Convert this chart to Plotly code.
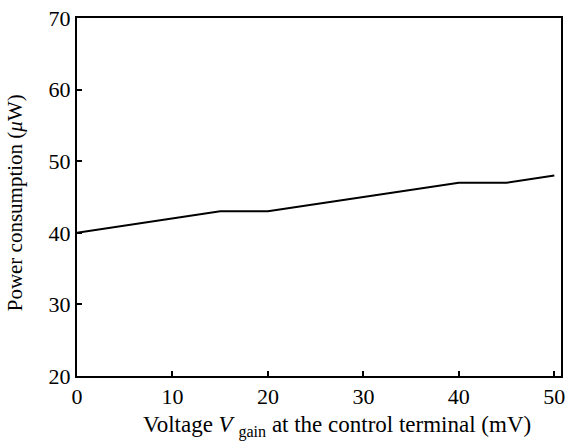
import plotly.graph_objects as go

voltage = [0, 5, 10, 15, 20, 25, 30, 35, 40, 45, 50]
power = [40, 41, 42, 43, 43, 44, 45, 46, 47, 47, 48]
x_ticks = [0, 10, 20, 30, 40, 50]
y_ticks = [20, 30, 40, 50, 60, 70]
x_title = "Voltage <i>V</i> <sub>gain</sub> at the control terminal (mV)"
y_title = "Power consumption (<i>μ</i>W)"

fig = go.Figure()
fig.add_trace(go.Scatter(x=voltage, y=power, mode="lines",
                         line=dict(color="black", width=2), showlegend=False))

fam = "Liberation Serif, Times New Roman, serif"
tickfont = dict(family=fam, size=22, color="black")
fig.update_layout(
    width=571, height=446,
    margin=dict(l=77, r=6, t=16, b=70),
    paper_bgcolor="white", plot_bgcolor="white",
    font=tickfont,
)
fig.update_xaxes(range=[0, 50.7], tickvals=x_ticks, ticks="inside", ticklen=5, tickwidth=1.5,
                 tickcolor="black", showline=True, linecolor="black", linewidth=2, mirror=True,
                 showgrid=False, zeroline=False, tickfont=tickfont)
fig.update_yaxes(range=[20, 70], tickvals=y_ticks, ticks="inside", ticklen=5, tickwidth=1.5,
                 tickcolor="black", showline=True, linecolor="black", linewidth=2, mirror=True,
                 showgrid=False, zeroline=False, tickfont=tickfont)
fig.add_annotation(text=x_title, xref="paper", yref="paper", x=0.537, y=-0.142,
                   xanchor="center", yanchor="middle", showarrow=False,
                   font=dict(family=fam, size=23, color="black"))
fig.add_annotation(text=y_title, xref="paper", yref="paper", x=-0.129, y=0.484,
                   xanchor="center", yanchor="middle", showarrow=False, textangle=-90,
                   font=dict(family=fam, size=21, color="black"))
fig.write_html("out.html")
